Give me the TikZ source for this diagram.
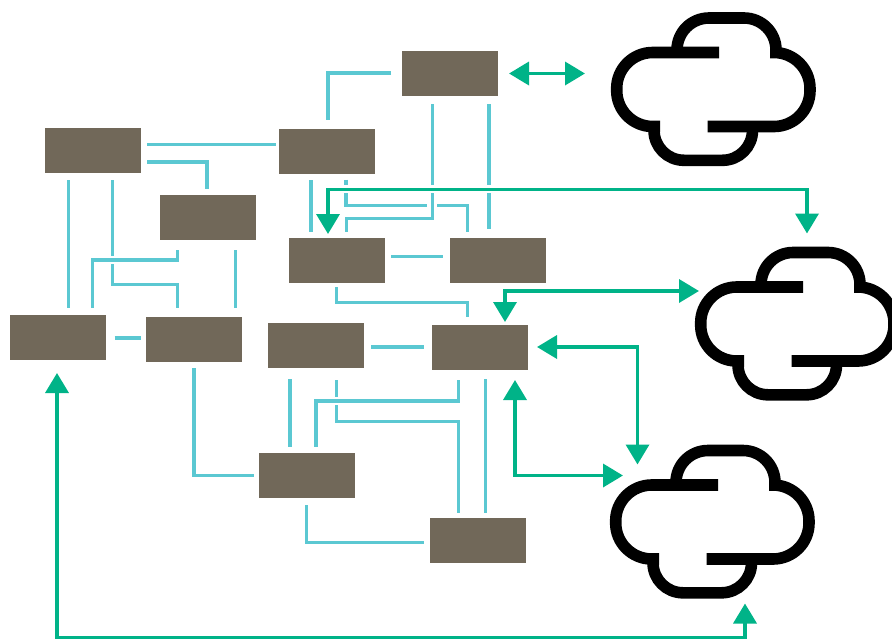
\documentclass[tikz,border=0pt]{standalone}
\usetikzlibrary{arrows.meta,positioning}

\definecolor{unitfill}{HTML}{716859}
\definecolor{linkteal}{HTML}{5BC8D2}
\definecolor{arrowgreen}{HTML}{00B388}

\tikzset{
    unit/.style={fill=unitfill,minimum width=96pt,minimum height=45pt,inner sep=0pt,outer sep=0pt},
    cloudbox/.style={minimum width=206pt,minimum height=154pt,inner sep=0pt,outer sep=0pt},
    link/.style={draw=linkteal,line width=3.3pt},
    uplink/.style={draw=arrowgreen,line width=3.6pt,<->},
    cloudshape/.pic={
        \draw[line width=11.6pt,rounded corners=36pt] (6,-36.5) -- (-96.3,-36.5) -- (-96.3,37.5) -- (-53,37.5);
        \draw[line width=11.6pt,rounded corners=30pt] (-59,37.5) -- (-59,71.3) -- (39.5,71.3) -- (39.5,37.5);
        \draw[line width=11.6pt,rounded corners=36pt] (-5.3,37.5) -- (97,37.5) -- (97,-36.5) -- (57,-36.5);
        \draw[line width=11.6pt,rounded corners=32pt] (-36,-36.5) -- (-36,-71) -- (63,-71) -- (63,-36.5);
    }
}

\begin{document}
\begin{tikzpicture}[x=1pt,y=-1pt,>={Triangle[width=23pt,length=20pt]}]

            \useasboundingbox (0,0) rectangle (892,638);

            \node[unit] (r1) at (93,150.5) {};
            \node[unit] (r2) [right=138pt of r1,yshift=-1pt] {};
            \node[unit] (r3) [above right=33pt and 27pt of r2] {};
            \node[unit] (r4) [below right=22pt and 19pt of r1] {};
            \node[unit] (r5) [below=64pt of r2,xshift=10pt] {};
            \node[unit] (r6) [right=65pt of r5] {};
            \node[unit] (r7) [below=142pt of r1,xshift=-35pt] {};
            \node[unit] (r8) [right=40pt of r7,yshift=-2pt] {};
            \node[unit] (r9) [below=40pt of r5,xshift=-21pt] {};
            \node[unit] (r10) [right=68pt of r9,yshift=-2pt] {};
            \node[unit] (r11) [below=85pt of r9,xshift=-9pt] {};
            \node[unit] (r12) [below=148pt of r10,xshift=-2pt] {};

            \node[cloudbox] (c1) at (713,89) {};
            \node[cloudbox] (c2) at (797,323.5) {};
            \node[cloudbox] (c3) at (712,521.5) {};
            \pic at (c1) {cloudshape};
            \pic at (c2) {cloudshape};
            \pic at (c3) {cloudshape};

            % ends of the lines at the crossings
            \coordinate (g1) at (112.7,256);
            \coordinate (g2) at (112.7,264);
            \coordinate (g3) at (336.7,396.5);
            \coordinate (g4) at (336.7,405);
            \coordinate (g5) at (346,185);
            \coordinate (g6) at (346,193.3);
            \coordinate (g7) at (427.3,205.7);
            \coordinate (g8) at (437.3,205.7);
            \coordinate (g9) at (432.3,185);
            \coordinate (g10) at (432.3,193.3);
            \coordinate (g11) at (489,185);
            \coordinate (g12) at (489,193.3);

            \draw[link,shorten <=6pt,shorten >=3pt] ([yshift=5.8pt]r1.east) -- ([yshift=6.8pt]r2.west);
            \draw[link,shorten <=6pt,shorten >=6pt] ([yshift=-11.5pt]r1.east) -| ([xshift=-1pt]r4.north);
            \draw[link,shorten <=7pt,shorten >=7.3pt] ([xshift=-24.7pt]r1.south) -- ([xshift=10.3pt]r7.north);
            \draw[link,shorten <=7pt] ([xshift=19.7pt]r1.south) -- (g1);
            \draw[link,shorten >=9.3pt] (g2) -- ++(0,20.3) -| ([xshift=-16.7pt]r8.north);
            \draw[link,shorten <=10pt,shorten >=7.3pt] ([xshift=-30.7pt]r4.south) -- ++(0,20) -| ([xshift=34.7pt]r7.north);
            \draw[link,shorten <=10pt,shorten >=9.3pt] ([xshift=27.2pt]r4.south) -- ([xshift=41.2pt]r8.north);
            \draw[link,shorten <=8.5pt,shorten >=5pt] ([yshift=-0.5pt]r7.east) -- ([yshift=1.5pt]r8.west);
            \draw[link,shorten <=6pt,shorten >=5pt] (r8.south) |- (r11.west);
            \draw[link,shorten <=7pt,shorten >=6pt] ([xshift=-0.3pt]r11.south) |- ([yshift=-2.2pt]r12.west);
            \draw[link,shorten <=11pt,shorten >=6pt] ([xshift=-26pt]r9.south) -- ([xshift=-17pt]r11.north);
            \draw[link,shorten <=10pt,shorten >=6pt] ([xshift=-21.7pt]r10.south) -- ++(0,31) -| ([xshift=9pt]r11.north);
            \draw[link,shorten <=12pt] ([xshift=20.7pt]r9.south) -- (g3);
            \draw[link,shorten >=5.5pt] (g4) -- ++(0,16.5) -| ([xshift=-19.7pt]r12.north);
            \draw[link,shorten <=9pt,shorten >=5.5pt] ([xshift=5.7pt]r10.south) -- ([xshift=7.7pt]r12.north);
            \draw[link,shorten <=7pt,shorten >=8pt] ([yshift=-1.5pt]r9.east) -- ([yshift=0.5pt]r10.west);
            \draw[link,shorten <=6pt,shorten >=7.3pt] ([yshift=4.2pt]r5.east) -- ([yshift=4.2pt]r6.west);
            \draw[link,shorten <=4pt,shorten >=8.3pt] ([xshift=-0.3pt]r5.south) -- ++(0,19.7) -| ([xshift=-12.3pt]r10.north);
            \draw[link,shorten <=6pt,shorten >=6pt] ([xshift=-16pt]r2.south) -- ([xshift=-26pt]r5.north);
            \draw[link,shorten <=5.5pt] ([xshift=19pt]r2.south) -- (g5);
            \draw[link] (g6) |- (g7);
            \draw[link,shorten >=6pt] (g8) -| ([xshift=-30.3pt]r6.north);
            \draw[link,shorten <=8pt] ([xshift=-17.7pt]r3.south) -- (g9);
            \draw[link,shorten >=6pt] (g10) -- ++(0,25) -| ([xshift=9.3pt]r5.north);
            \draw[link,shorten <=8pt] ([xshift=39pt]r3.south) -- (g11);
            \draw[link,shorten >=9pt] (g12) -- ([xshift=-9pt]r6.north);
            \draw[link,shorten <=11pt,shorten >=9pt] ([yshift=0.5pt]r3.west) -| ([xshift=1pt]r2.north);

            \draw[uplink,shorten <=11pt,shorten >=25pt] (r3.east) -- ([yshift=15.5pt]c1.west);
            \draw[uplink,shorten <=4pt,shorten >=13pt] ([xshift=-9pt]r5.north) -- ++(0,-48.5) -| ([xshift=10pt]c2.north);
            \draw[uplink,shorten <=3pt,shorten >=-5pt] ([xshift=25pt]r10.north) -- ++(0,-34) -- ([yshift=32.5pt]c2.west);
            \draw[uplink,shorten <=9pt,shorten >=-20pt] ([yshift=0.5pt]r10.east) -| ([xshift=-74.5pt]c3.north);
            \draw[uplink,shorten <=10pt,shorten >=-14pt] ([xshift=35pt]r10.south) |- ([yshift=46pt]c3.west);
            \draw[uplink,shorten <=13pt,shorten >=5pt] ([xshift=-1pt]r7.south) -- ++(0,278) -| ([xshift=33pt]c3.south);

\end{tikzpicture}
\end{document}
